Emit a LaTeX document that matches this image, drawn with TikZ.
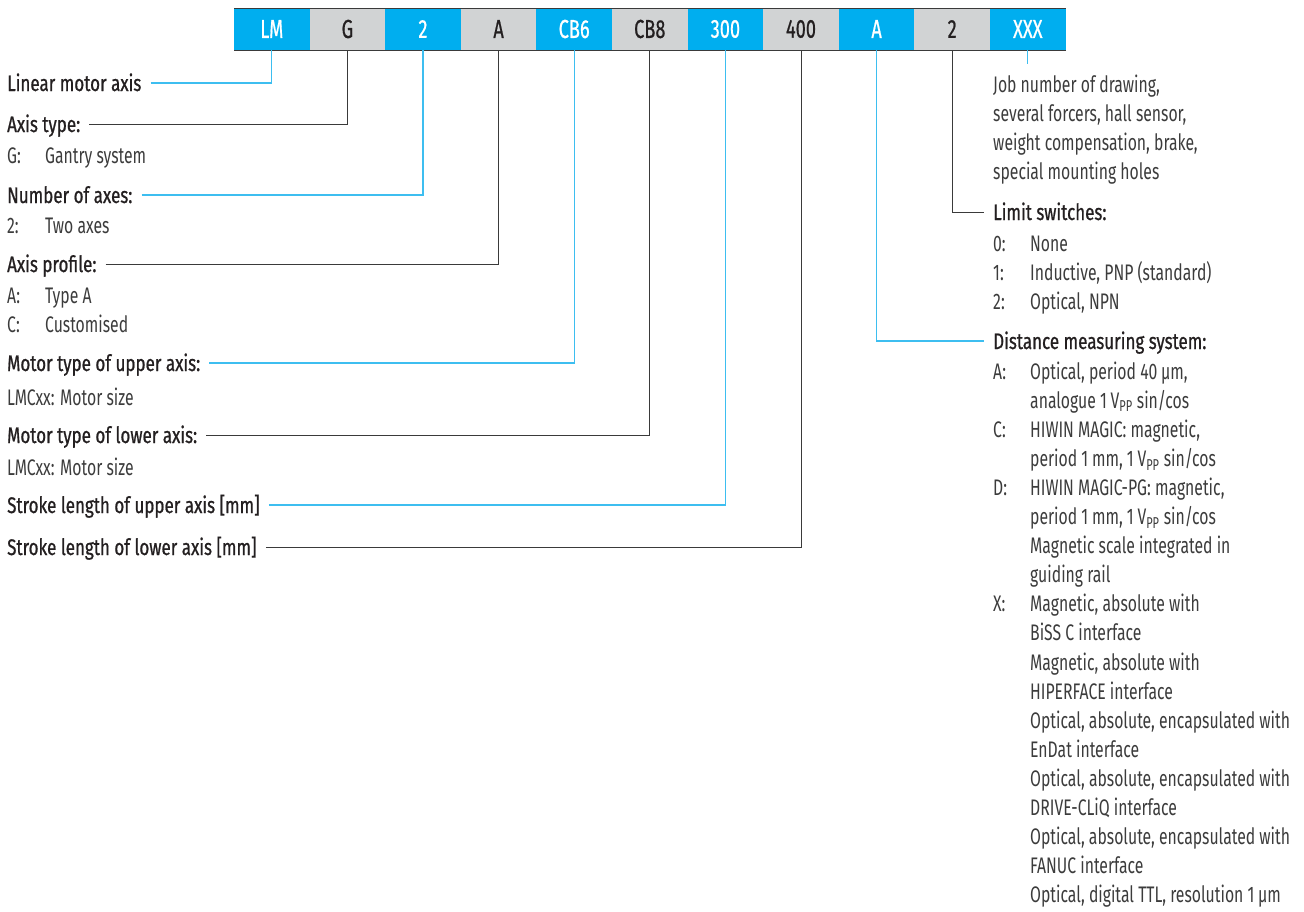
\documentclass[tikz,border=0pt]{standalone}
\usepackage{fontspec}
\setmainfont{Fira Sans}[FakeStretch=0.70]
\newfontfamily\headfont{Fira Sans}[FakeStretch=0.755,FakeBold=0.8]
\newfontfamily\boxfont{Fira Sans}[FakeStretch=0.70,FakeBold=0.6]
\usetikzlibrary{calc}
\definecolor{hblue}{HTML}{00AEEF}
\definecolor{hgray}{HTML}{D1D3D4}
\definecolor{lblue}{HTML}{3DBEF0}
\definecolor{ldark}{HTML}{3A3A3A}
\definecolor{txt}{HTML}{231F20}
\definecolor{itxt}{HTML}{3C3C3C}
\newcommand{\vpp}{1\,V\textsubscript{PP}}
\begin{document}
\begin{tikzpicture}[x=1pt,y=-1pt,
  bx/.style={minimum width=75.6pt,minimum height=42pt,inner sep=0pt,outer sep=0pt,font=\boxfont\fontsize{26}{26}\selectfont},
  bb/.style={bx,fill=hblue,text=white},
  bg/.style={bx,fill=hgray,text=txt},
  head/.style={anchor=base west,inner sep=0pt,font=\headfont\fontsize{22.5}{29.1}\selectfont,text=txt},
  item/.style={anchor=base west,inner sep=0pt,font=\fontsize{22.5}{29.1}\selectfont,text=itxt},
  cb/.style={draw=lblue,line width=1.1pt},
  cd/.style={draw=ldark,line width=1pt}]
\useasboundingbox (0,0) rectangle (1304,911);
% code boxes
\node[bb] (b1)  at (271.8,29)  {LM};
\node[bg] (b2)  at (347.4,29)  {G};
\node[bb] (b3)  at (423.0,29)  {2};
\node[bg] (b4)  at (498.6,29)  {A};
\node[bb] (b5)  at (574.2,29)  {CB6};
\node[bg] (b6)  at (649.8,29)  {CB8};
\node[bb] (b7)  at (725.4,29)  {300};
\node[bg] (b8)  at (801.0,29)  {400};
\node[bb] (b9)  at (876.6,29)  {A};
\node[bg] (b10) at (952.2,29)  {2};
\node[bb] (b11) at (1027.8,29) {XXX};
\draw[cd] (b1.north west) -- (b11.north east);
\draw[cd] (b1.south west) -- (b11.south east);
% left headings
\node[head] (l1) at (7,91)  {Linear motor axis};
\node[head] (l2) at (7,132) {Axis type:};
\node[item] (i2) at (7,163) {\begin{tabular}[t]{@{}p{38pt}@{}l@{}}G: & Gantry system\end{tabular}};
\node[head] (l3) at (7,203) {Number of axes:};
\node[item] (i3) at (7,233) {\begin{tabular}[t]{@{}p{38pt}@{}l@{}}2: & Two axes\end{tabular}};
\node[head] (l4) at (7,272) {Axis profile:};
\node[item] (i4) at (7,303) {\begin{tabular}[t]{@{}p{38pt}@{}l@{}}A: & Type A\\ C: & Customised\end{tabular}};
\node[head] (l5) at (7,371) {Motor type of upper axis:};
\node[item] (i5) at (7,405) {LMCxx: Motor size};
\node[head] (l6) at (7,443) {Motor type of lower axis:};
\node[item] (i6) at (7,475) {LMCxx: Motor size};
\node[head] (l7) at (7,513) {Stroke length of upper axis [mm]};
\node[head] (l8) at (7,555) {Stroke length of lower axis [mm]};
% right side
\coordinate (xe) at (1027.8,64);
\node[item] (job) at (993,92) {\begin{tabular}[t]{@{}l@{}}Job number of drawing,\\ several forcers, hall sensor,\\ weight compensation, brake,\\ special mounting holes\end{tabular}};
\node[head] (r2) at (993,220) {Limit switches:};
\node[item] (ri2) at (993,251) {\begin{tabular}[t]{@{}p{37pt}@{}l@{}}0: & None\\ 1: & Inductive, PNP (standard)\\ 2: & Optical, NPN\end{tabular}};
\node[head] (r3) at (993,349) {Distance measuring system:};
\node[item] (ri3) at (993,379) {\begin{tabular}[t]{@{}p{37pt}@{}l@{}}A: & Optical, period 40\,µm,\\ & analogue \vpp{} sin/cos\\
C: & HIWIN MAGIC: magnetic,\\ & period 1\,mm, \vpp{} sin/cos\\
D: & HIWIN MAGIC-PG: magnetic,\\ & period 1\,mm, \vpp{} sin/cos\\ & Magnetic scale integrated in\\ & guiding rail\\
X: & Magnetic, absolute with\\ & BiSS C interface\\ & Magnetic, absolute with\\ & HIPERFACE interface\\
& Optical, absolute, encapsulated with\\ & EnDat interface\\ & Optical, absolute, encapsulated with\\ & DRIVE-CLiQ interface\\
& Optical, absolute, encapsulated with\\ & FANUC interface\\ & Optical, digital TTL, resolution 1\,µm\end{tabular}};
% connectors
\draw[cb] ([shift={(9pt,8pt)}]l1.base east) -| (b1.south);
\draw[cd] ([shift={(9pt,8pt)}]l2.base east) -| (b2.south);
\draw[cb] ([shift={(9pt,8pt)}]l3.base east) -| (b3.south);
\draw[cd] ([shift={(9pt,8pt)}]l4.base east) -| (b4.south);
\draw[cb] ([shift={(9pt,8pt)}]l5.base east) -| (b5.south);
\draw[cd] ([shift={(9pt,8pt)}]l6.base east) -| (b6.south);
\draw[cb] ([shift={(9pt,8pt)}]l7.base east) -| (b7.south);
\draw[cd] ([shift={(9pt,8pt)}]l8.base east) -| (b8.south);
\draw[cb] (b9.south) |- ([shift={(-9pt,8pt)}]r3.base west);
\draw[cd] (b10.south) |- ([shift={(-9pt,8pt)}]r2.base west);
\draw[cb] (b11.south) -- (xe);
\end{tikzpicture}
\end{document}
